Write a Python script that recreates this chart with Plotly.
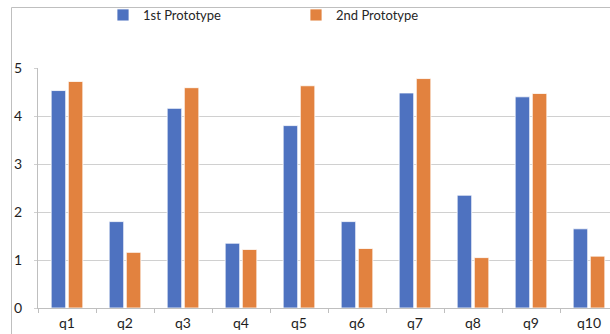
import plotly.graph_objects as go

categories = ["q1", "q2", "q3", "q4", "q5", "q6", "q7", "q8", "q9", "q10"]
proto1 = [4.53, 1.80, 4.16, 1.35, 3.80, 1.80, 4.48, 2.35, 4.40, 1.65]
proto2 = [4.72, 1.16, 4.59, 1.22, 4.63, 1.24, 4.78, 1.05, 4.47, 1.08]
series_names = ["1st Prototype", "2nd Prototype"]
colors = ["#4E72C0", "#E2823F"]

W, H = 610, 334
ML, MR, MT, MB = 38, 0, 68, 26
pw = W - ML - MR
ph = H - MT - MB
cat_px = 58.0

def px_to_paper_x(x):
    return (x - ML) / pw

def px_to_paper_y(y):
    return (H - MB - y) / ph

fig = go.Figure()
for name, vals, col in zip(series_names, [proto1, proto2], colors):
    fig.add_trace(go.Bar(
        x=categories, y=vals, name=name,
        marker=dict(color=col, line=dict(color="rgba(255,255,255,0.8)", width=1)),
    ))

font_family = "Lato, 'Open Sans', sans-serif"

fig.update_layout(
    width=W, height=H,
    margin=dict(l=ML, r=MR, t=MT, b=MB, pad=0, autoexpand=False),
    paper_bgcolor="white", plot_bgcolor="white",
    barmode="group", bargap=0.41, bargroupgap=0.15,
    font=dict(family=font_family, size=13, color="#262626"),
    showlegend=True,
    legend=dict(
        orientation="h", x=px_to_paper_x(103), xanchor="left",
        y=px_to_paper_y(15), yanchor="middle",
        entrywidth=148, entrywidthmode="pixels",
        font=dict(size=13, color="#262626"),
        bgcolor="rgba(0,0,0,0)",
    ),
    xaxis=dict(
        range=[-0.5, -0.5 + pw / cat_px],
        automargin=False,
        showline=True, linecolor="#BFBFBF", linewidth=1,
        ticks="outside", ticklen=4, tickcolor="#BFBFBF",
        tickson="boundaries", showgrid=False,
        ticklabelstandoff=2,
        tickfont=dict(size=14, color="#1E1E1E"),
    ),
    yaxis=dict(
        range=[0, 5], dtick=1, tick0=0,
        automargin=False,
        showgrid=True, gridcolor="#D0D0D0", gridwidth=1,
        showline=True, linecolor="#BFBFBF", linewidth=1,
        ticks="outside", ticklen=3, tickcolor="#D0D0D0",
        zeroline=False,
        ticklabelstandoff=9,
        tickfont=dict(size=14, color="#1E1E1E"),
    ),
    shapes=[
        dict(type="line", xref="paper", yref="paper",
             x0=px_to_paper_x(11.5), x1=px_to_paper_x(11.5),
             y0=px_to_paper_y(7.5), y1=px_to_paper_y(H + 5),
             line=dict(color="#BFBFBF", width=1)),
        dict(type="line", xref="paper", yref="paper",
             x0=px_to_paper_x(11.5), x1=px_to_paper_x(W + 5),
             y0=px_to_paper_y(7.5), y1=px_to_paper_y(7.5),
             line=dict(color="#BFBFBF", width=1)),
    ],
)

fig.write_html(
    "out.html",
    config={"displayModeBar": False},
    post_script="document.body.style.margin='0';document.body.style.overflow='hidden';",
)
